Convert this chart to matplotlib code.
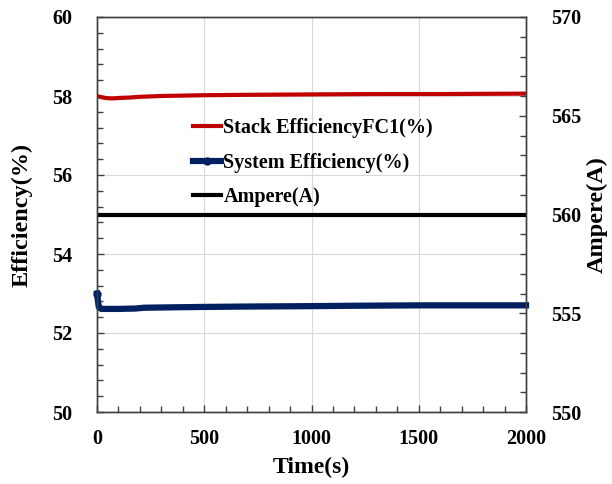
import matplotlib
matplotlib.use("Agg")
import matplotlib.pyplot as plt
from matplotlib.ticker import MultipleLocator

plt.rcParams['font.family'] = ['Liberation Serif', 'DejaVu Serif']
plt.rcParams['font.weight'] = 'bold'

# Data
stack_time = [0, 20, 40, 60, 80, 100, 150, 200, 300, 400, 500, 700, 1000, 1300, 1600, 2000]
stack_eff = [58.0, 57.97, 57.95, 57.94, 57.94, 57.95, 57.96, 57.98, 58.0, 58.01, 58.02, 58.03, 58.04, 58.05, 58.05, 58.06]

sys_time = [0, 8, 20, 50, 100, 180, 220, 350, 500, 700, 1000, 1200, 1500, 2000]
sys_eff = [53.0, 52.66, 52.61, 52.61, 52.61, 52.62, 52.64, 52.65, 52.66, 52.67, 52.68, 52.69, 52.7, 52.7]

amp_time = [0, 2000]
amp_val = [560, 560]

fig = plt.figure(figsize=(6.12, 4.84), dpi=100)
ax = fig.add_axes([97/612, 1 - 412/484, (526-97)/612, (412-17)/484])
ax2 = ax.twinx()

l1, = ax.plot(stack_time, stack_eff, color='#c00000', lw=3, label='Stack EfficiencyFC1(%)', zorder=3)
l2, = ax.plot(sys_time, sys_eff, color='#002060', lw=4.5, marker='o', markersize=5,
              markevery=[0], label='System Efficiency(%)', zorder=3, clip_on=False)
l3, = ax2.plot(amp_time, amp_val, color='black', lw=3, label='Ampere(A)')

ax.set_xlim(0, 2000)
ax.set_ylim(50, 60)
ax2.set_ylim(550, 570)
ax.xaxis.set_major_locator(MultipleLocator(500))
ax.xaxis.set_minor_locator(MultipleLocator(100))
ax.yaxis.set_major_locator(MultipleLocator(2))
ax.yaxis.set_minor_locator(MultipleLocator(0.4))
ax2.yaxis.set_major_locator(MultipleLocator(5))
ax2.yaxis.set_minor_locator(MultipleLocator(1))

ax.grid(True, which='major', color='#d9d9d9', lw=0.8)
ax.set_axisbelow(True)

for a in (ax, ax2):
    a.tick_params(which='both', direction='in', labelsize=14.5, width=1, color='#404040')
    a.tick_params(which='major', length=5)
    a.tick_params(which='minor', length=4)
    for s in a.spines.values():
        s.set_color('#404040')
        s.set_linewidth(1)
ax.tick_params(axis='y', pad=18)
ax2.tick_params(axis='y', pad=18)
ax.tick_params(axis='x', pad=12)

for lab in ax.get_xticklabels() + ax.get_yticklabels() + ax2.get_yticklabels():
    lab.set_fontweight('bold')

ax.set_xlabel('Time(s)', fontsize=17, fontweight='bold', labelpad=6)
ax.set_ylabel('Efficiency(%)', fontsize=17.5, fontweight='bold', labelpad=14)
ax2.set_ylabel('Ampere(A)', fontsize=17.5, fontweight='bold', labelpad=4)

leg = ax.legend(handles=[l1, l2, l3], loc='upper left', bbox_to_anchor=(0.182, 0.79),
                frameon=False, handlelength=1.4, handletextpad=0.1,
                labelspacing=0.72, prop={'weight': 'bold', 'size': 14.5})

fig.savefig('out.png', dpi=100)
